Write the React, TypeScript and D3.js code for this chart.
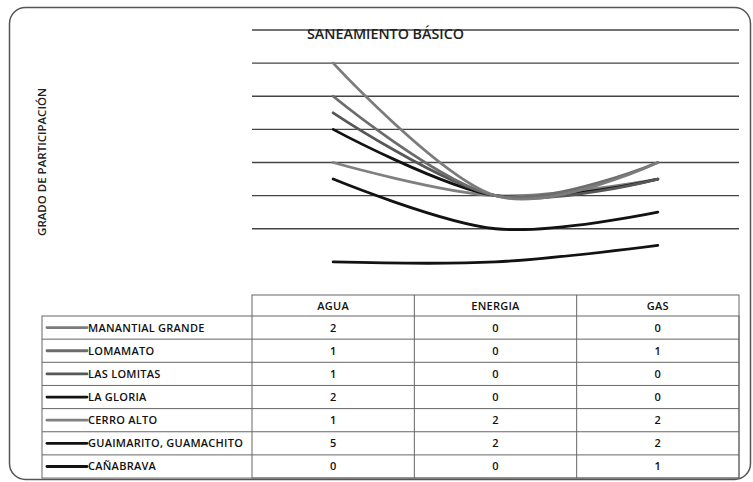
import React, { useRef, useEffect } from 'react';
import * as d3 from 'd3';

const categories = ['AGUA', 'ENERGIA', 'GAS'];
const seriesNames = [
  'MANANTIAL GRANDE',
  'LOMAMATO',
  'LAS LOMITAS',
  'LA GLORIA',
  'CERRO ALTO',
  'GUAIMARITO, GUAMACHITO',
  'CAÑABRAVA'
];
const aguaValues = [2, 1, 1, 2, 1, 5, 0];
const energiaValues = [0, 0, 0, 0, 2, 2, 0];
const gasValues = [0, 1, 0, 0, 2, 2, 1];
const seriesColors = ['#7b7b7b', '#6c6c6c', '#575757', '#121212', '#808080', '#121212', '#121212'];
const yTicks = [2, 4, 6, 8, 10, 12, 14];

const W = 753;
const H = 482;
const FONT = '"Open Sans", "DejaVu Sans", sans-serif';

export default function App() {
  const svgRef = useRef<SVGSVGElement>(null);

  useEffect(() => {
    const svg = d3.select(svgRef.current);
    svg.selectAll('*').remove();

    const plotLeft = 252;
    const plotRight = 739;
    const plotTop = 30;
    const tableTop = 295;
    const headerH = 21;
    const rowH = 23.15;
    const legendLeft = 42;

    const valuesByCat = [aguaValues, energiaValues, gasValues];
    const rows = categories.map((c, ci) => {
      const r: any = { cat: c };
      seriesNames.forEach((s, si) => (r[s] = valuesByCat[ci][si]));
      return r;
    });

    // stacked: last series in the table sits at the bottom
    const stackKeys = seriesNames.slice().reverse();
    const stacked = d3.stack<any>().keys(stackKeys)(rows);

    const x = d3.scaleBand().domain(categories).range([plotLeft, plotRight]);
    const y = d3.scaleLinear().domain([-2, 14]).range([tableTop, plotTop]);

    // outer frame
    svg.append('rect')
      .attr('x', 9.5).attr('y', 7.5)
      .attr('width', 741).attr('height', 472)
      .attr('rx', 16).attr('ry', 16)
      .attr('fill', '#fff')
      .attr('stroke', '#555')
      .attr('stroke-width', 1.5);

    // gridlines
    svg.append('g')
      .selectAll('line')
      .data(yTicks)
      .enter()
      .append('line')
      .attr('x1', plotLeft).attr('x2', plotRight)
      .attr('y1', d => y(d)).attr('y2', d => y(d))
      .attr('stroke', '#444')
      .attr('stroke-width', 1.4);

    // title
    svg.append('text')
      .attr('x', 307)
      .attr('y', 39)
      .attr('textLength', 157)
      .attr('lengthAdjust', 'spacingAndGlyphs')
      .style('font-family', FONT)
      .style('font-size', '13.5px')
      .style('font-weight', 600)
      .attr('fill', '#222')
      .text('SANEAMIENTO BÁSICO');

    // y title
    svg.append('text')
      .attr('transform', 'translate(46,162) rotate(-90)')
      .attr('text-anchor', 'middle')
      .style('font-family', FONT)
      .style('font-size', '11.5px')
      .style('font-weight', 600)
      .attr('fill', '#222')
      .text('GRADO DE PARTICIPACIÓN');

    // lines
    const line = d3.line<any>()
      .x(d => (x(d.data.cat) || 0) + x.bandwidth() / 2)
      .y(d => y(d[1]))
      .curve(d3.curveCardinal.tension(0));

    svg.append('g')
      .selectAll('path')
      .data(stacked)
      .enter()
      .append('path')
      .attr('d', d => line(d as any))
      .attr('fill', 'none')
      .attr('stroke', d => seriesColors[seriesNames.indexOf(d.key)])
      .attr('stroke-width', 2.8)
      .attr('stroke-linecap', 'round');

    // data table
    const table = svg.append('g');
    const tableBottom = tableTop + headerH + rowH * seriesNames.length;
    const gridStroke = '#666';

    table.append('rect')
      .attr('x', plotLeft).attr('y', tableTop)
      .attr('width', plotRight - plotLeft).attr('height', tableBottom - tableTop)
      .attr('fill', 'none').attr('stroke', gridStroke).attr('stroke-width', 1);
    table.append('rect')
      .attr('x', legendLeft).attr('y', tableTop + headerH)
      .attr('width', plotRight - legendLeft).attr('height', tableBottom - tableTop - headerH)
      .attr('fill', 'none').attr('stroke', gridStroke).attr('stroke-width', 1);

    categories.slice(1).forEach(c => {
      table.append('line')
        .attr('x1', x(c) || 0).attr('x2', x(c) || 0)
        .attr('y1', tableTop).attr('y2', tableBottom)
        .attr('stroke', gridStroke);
    });
    seriesNames.slice(1).forEach((s, i) => {
      const yy = tableTop + headerH + rowH * (i + 1);
      table.append('line')
        .attr('x1', legendLeft).attr('x2', plotRight)
        .attr('y1', yy).attr('y2', yy)
        .attr('stroke', gridStroke);
    });

    const cellText = (sel: any) =>
      sel.style('font-family', FONT)
        .style('font-size', '11px')
        .style('font-weight', 600)
        .style('letter-spacing', '0.25px')
        .attr('fill', '#111');

    categories.forEach(c => {
      table.append('text')
        .attr('x', (x(c) || 0) + x.bandwidth() / 2)
        .attr('y', tableTop + headerH / 2 + 4)
        .attr('text-anchor', 'middle')
        .call(cellText)
        .text(c);
    });

    seriesNames.forEach((s, si) => {
      const cy = tableTop + headerH + rowH * si + rowH / 2;
      table.append('line')
        .attr('x1', 47).attr('x2', 87)
        .attr('y1', cy).attr('y2', cy)
        .attr('stroke', seriesColors[si])
        .attr('stroke-width', 2.8)
        .attr('stroke-linecap', 'round');
      table.append('text')
        .attr('x', 88)
        .attr('y', cy + 4)
        .call(cellText)
        .text(s);
      categories.forEach((c, ci) => {
        table.append('text')
          .attr('x', (x(c) || 0) + x.bandwidth() / 2)
          .attr('y', cy + 4)
          .attr('text-anchor', 'middle')
          .call(cellText)
          .text(valuesByCat[ci][si]);
      });
    });
  }, []);

  return (
    <div style={{ position: 'absolute', left: 0, top: 0 }}>
      <svg ref={svgRef} width={W} height={H} style={{ display: 'block', background: '#fff' }} />
    </div>
  );
}
